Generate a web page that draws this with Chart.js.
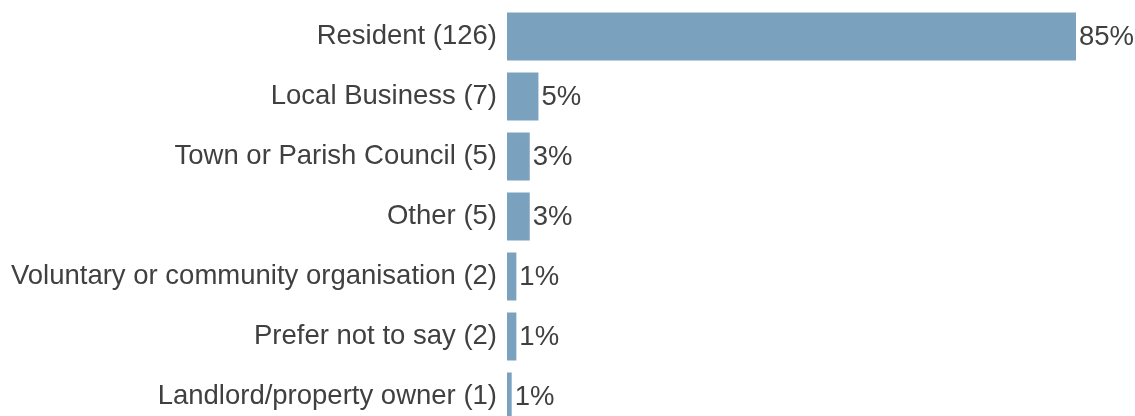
<!DOCTYPE html>
<html>
<head>
<meta charset="utf-8">
<script src="https://cdn.jsdelivr.net/npm/chart.js"></script>
<style>
  html, body { margin: 0; padding: 0; background: #fff; }
  #wrap { width: 1135px; height: 416px; overflow: hidden; position: relative; }
  #wrap canvas { position: absolute; left: 0; top: 0; }
</style>
</head>
<body>
<div id="wrap"><canvas id="respondents" width="1135" height="430"></canvas></div>
<script>
// --------- Respondent types ---------
const categories = [
  "Resident (126)",
  "Local Business (7)",
  "Town or Parish Council (5)",
  "Other (5)",
  "Voluntary or community organisation (2)",
  "Prefer not to say (2)",
  "Landlord/property owner (1)"
];
// share of all 148 responses, in percent
const shares = [85.1, 4.7, 3.4, 3.4, 1.4, 1.4, 0.7];

const barColor = "#7aa1be";
const textColor = "#404040";
const fontFamily = "'Liberation Sans', Arial, sans-serif";

// percent labels at the end of each bar
const valueLabels = {
  id: "valueLabels",
  afterDatasetsDraw(chart) {
    const ctx = chart.ctx;
    const meta = chart.getDatasetMeta(0);
    ctx.save();
    ctx.font = "27.5px " + fontFamily;
    ctx.fillStyle = textColor;
    ctx.textAlign = "left";
    ctx.textBaseline = "middle";
    meta.data.forEach((bar, i) => {
      ctx.fillText(Math.round(shares[i]) + "%", bar.x + 3, bar.y + 1);
    });
    ctx.restore();
  }
};

new Chart(document.getElementById("respondents"), {
  type: "bar",
  data: {
    labels: categories,
    datasets: [{
      data: shares,
      backgroundColor: barColor,
      borderWidth: 0,
      barPercentage: 0.8,
      categoryPercentage: 1
    }]
  },
  options: {
    indexAxis: "y",
    responsive: false,
    animation: false,
    layout: { padding: { top: 6.5, bottom: 3.5, left: 0, right: 59 } },
    plugins: { legend: { display: false }, tooltip: { enabled: false } },
    scales: {
      x: { display: false, min: 0, max: 85.1 },
      y: {
        grid: { display: false, drawTicks: false },
        border: { display: false },
        ticks: {
          color: textColor,
          padding: 10,
          font: { family: fontFamily, size: 27.5 }
        },
        afterFit(scale) {
          // fixed label column, and no extra room for the end labels
          scale.width = 507;
          scale.paddingTop = 0;
          scale.paddingBottom = 0;
        }
      }
    }
  },
  plugins: [valueLabels]
});
</script>
</body>
</html>
